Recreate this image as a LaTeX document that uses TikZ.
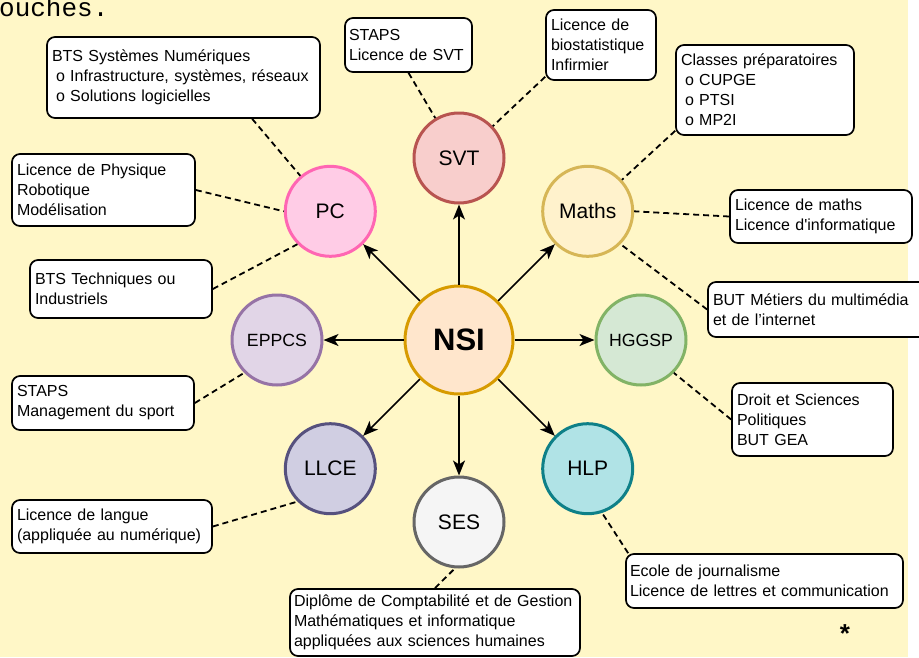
\documentclass[tikz,border=0pt]{standalone}
\usepackage{fontspec}
\setmainfont{Liberation Sans}
\newfontfamily\cutfont{Liberation Mono}
\usetikzlibrary{shapes.geometric, arrows.meta, calc}
\definecolor{bgyellow}{HTML}{FFF7C7}
\definecolor{nsifill}{HTML}{FFE6CC}
\definecolor{nsiline}{HTML}{D79B00}
\definecolor{svtfill}{HTML}{F8CECC}
\definecolor{svtline}{HTML}{B85450}
\definecolor{mathsfill}{HTML}{FFF2CC}
\definecolor{mathsline}{HTML}{D6B656}
\definecolor{pcfill}{HTML}{FFCCE6}
\definecolor{pcline}{HTML}{FF66B3}
\definecolor{eppcsfill}{HTML}{E1D5E7}
\definecolor{eppcsline}{HTML}{9673A6}
\definecolor{hggspfill}{HTML}{D5E8D4}
\definecolor{hggspline}{HTML}{82B366}
\definecolor{llcefill}{HTML}{D0CEE2}
\definecolor{llceline}{HTML}{56517E}
\definecolor{sesfill}{HTML}{F5F5F5}
\definecolor{sesline}{HTML}{666666}
\definecolor{hlpfill}{HTML}{B0E3E6}
\definecolor{hlpline}{HTML}{0E8088}
\tikzstyle{arrow} = [line width=1.7pt,-{Stealth[length=15pt,width=12pt,inset=4pt]}]
\tikzstyle{dashline} = [line width=1.8pt, dash pattern=on 6pt off 4pt]
\tikzstyle{subj} = [circle, minimum size=90pt, inner sep=0pt, line width=3pt, font=\fontsize{21}{25}\selectfont]
\tikzstyle{note} = [rectangle, rounded corners=8pt, draw=black, line width=1.7pt, fill=white, align=left, inner xsep=5pt, inner ysep=0pt, font=\fontsize{16}{20}\selectfont]

\begin{document}
\begin{tikzpicture}[x=1pt, y=-1pt, node distance=182pt]
	\useasboundingbox (0,0) rectangle (919,657);
	\fill [white] (0,0) rectangle (919,657);
	\fill [bgyellow] (0,0) rectangle (908,657);
	\node (cut) [anchor=base west, inner sep=0pt, font=\cutfont\fontsize{26}{26}\selectfont] at (-1,16) {ouches.};
	\node (nsi) [subj, minimum size=108pt, fill=nsifill, draw=nsiline, font=\fontsize{31}{35}\selectfont\bfseries] at (459,340) {NSI};
	\node (svt) [subj, fill=svtfill, draw=svtline, above of=nsi] {SVT};
	\node (maths) [subj, fill=mathsfill, draw=mathsline, above right of=nsi] {Maths};
	\node (hggsp) [subj, fill=hggspfill, draw=hggspline, right of=nsi, font=\fontsize{17.7}{20}\selectfont] {HGGSP};
	\node (hlp) [subj, fill=hlpfill, draw=hlpline, below right of=nsi] {HLP};
	\node (ses) [subj, fill=sesfill, draw=sesline, below of=nsi] {SES};
	\node (llce) [subj, fill=llcefill, draw=llceline, below left of=nsi] {LLCE};
	\node (eppcs) [subj, fill=eppcsfill, draw=eppcsline, left of=nsi, font=\fontsize{17.7}{20}\selectfont] {EPPCS};
	\node (pc) [subj, fill=pcfill, draw=pcline, above left of=nsi] {PC};
	\node (btssn) [note, text width=263pt, minimum height=81pt] at (183.5,77.5) {BTS Systèmes Numériques\\\hspace*{4pt}o Infrastructure, systèmes, réseaux\\\hspace*{4pt}o Solutions logicielles};
	\node (svtlic) [note, text width=119pt, minimum height=54pt, inner xsep=4pt] at (408.5,45) {STAPS\\Licence de SVT};
	\node (biostat) [note, text width=100pt, minimum height=70pt] at (601,45) {Licence de\\biostatistique\\Infirmier};
	\node (prepa) [note, text width=168pt, minimum height=90pt] at (765,90) {Classes préparatoires\\\hspace*{4pt}o CUPGE\\\hspace*{4pt}o PTSI\\\hspace*{4pt}o MP2I};
	\node (phys) [note, text width=173pt, minimum height=72pt] at (103.5,190) {Licence de Physique\\Robotique\\Modélisation};
	\node (mathlic) [note, text width=172pt, minimum height=53pt] at (821,216.5) {Licence de maths\\Licence d\textquotesingle informatique};
	\node (btstech) [note, text width=172pt, minimum height=58pt] at (121,289) {BTS Techniques ou\\Industriels};
	\node (mmi) [note, text width=212pt, minimum height=55pt] at (819,309.5) {BUT Métiers du multimédia\\et de l’internet};
	\node (sport) [note, text width=172pt, minimum height=54pt] at (103,403) {STAPS\\Management du sport};
	\node (droit) [note, text width=151pt, minimum height=73pt] at (812.5,419.5) {Droit et Sciences\\Politiques\\BUT GEA};
	\node (langue) [note, text width=190pt, minimum height=53pt] at (112,526.5) {Licence de langue\\(appliquée au numérique)};
	\node (dcg) [note, text width=282pt, minimum height=67pt, inner xsep=4pt] at (435,622.5) {Diplôme de Comptabilité et de Gestion\\Mathématiques et informatique\\appliquées aux sciences humaines};
	\node (journal) [note, text width=269pt, minimum height=54pt, inner xsep=4pt] at (764.5,581) {Ecole de journalisme\\Licence de lettres et communication};
	\node (star) [anchor=base, inner sep=0pt, font=\fontsize{26}{26}\selectfont\bfseries] at (845,642) {*};
	\draw [arrow] (nsi) -- (svt);
	\draw [arrow] (nsi) -- (maths);
	\draw [arrow] (nsi) -- (hggsp);
	\draw [arrow] (nsi) -- (hlp);
	\draw [arrow] (nsi) -- (ses);
	\draw [arrow] (nsi) -- (llce);
	\draw [arrow] (nsi) -- (eppcs);
	\draw [arrow] (nsi) -- (pc);
	\draw [dashline] ($(btssn.south)!0.5!(btssn.south east)$) -- (pc);
	\draw [dashline] (svtlic.south) -- (svt);
	\draw [dashline] ([yshift=4pt]biostat.south west) -- (svt);
	\draw [dashline] ([yshift=5pt]prepa.south west) -- (maths);
	\draw [dashline] (phys.east) -- (pc.west);
	\draw [dashline] (mathlic.west) -- (maths.east);
	\draw [dashline] (btstech.east) -- (pc.225);
	\draw [dashline] (mmi.west) -- (maths.315);
	\draw [dashline] (sport.east) -- (eppcs.225);
	\draw [dashline] (droit.west) -- (hggsp.315);
	\draw [dashline] (langue.east) -- (llce.225);
	\draw [dashline] (dcg.north) -- (ses.265);
	\draw [dashline] ([xshift=3pt]journal.north west) -- (hlp.288);
\end{tikzpicture}
\end{document}
